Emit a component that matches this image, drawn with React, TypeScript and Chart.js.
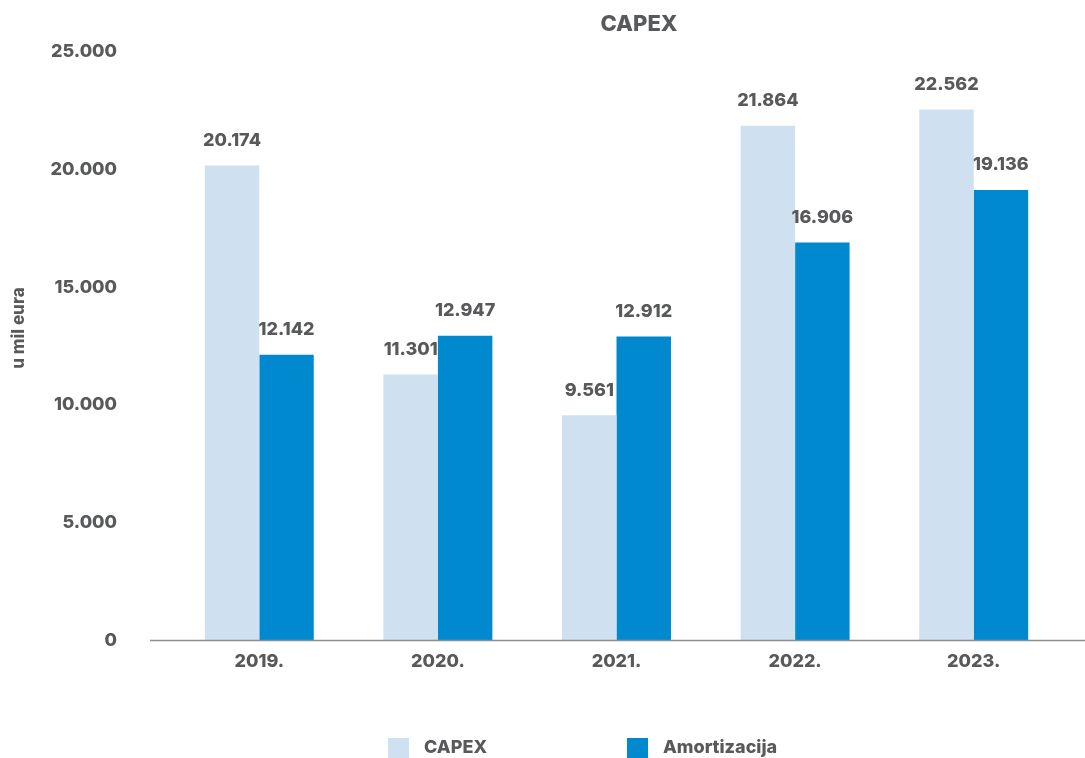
import React, { useEffect, useRef } from "react";
import { Chart, registerables } from "chart.js";

Chart.register(...registerables);

const categories = ["2019.", "2020.", "2021.", "2022.", "2023."];
const capexValues = [20174, 11301, 9561, 21864, 22562];
const amortizacijaValues = [12142, 12947, 12912, 16906, 19136];
const seriesLabels = ["CAPEX", "Amortizacija"];
const chartTitle = "CAPEX";
const yAxisTitle = "u mil eura";
const yMax = 25000;
const yStep = 5000;

const TEXT = "#58595b";
const LIGHT = "#cfe0f0";
const DARK = "#0089cf";
const FONT = "Inter, 'Noto Sans', sans-serif";
const W = 800;

function fmt(v: number): string {
  return String(Math.round(v)).replace(/\B(?=(\d{3})+(?!\d))/g, ".");
}

const extrasPlugin = {
  id: "extras",
  afterDraw(chart: any) {
    const { ctx, scales } = chart;
    const y = scales.y;
    ctx.save();
    // baseline
    const y0 = y.getPixelForValue(0);
    ctx.strokeStyle = "#8e8e8e";
    ctx.lineWidth = 1.5;
    ctx.beginPath();
    ctx.moveTo(150, y0);
    ctx.lineTo(chart.width, y0);
    ctx.stroke();

    // data labels
    ctx.fillStyle = TEXT;
    ctx.font = `${W} 18px ${FONT}`;
    ctx.textAlign = "center";
    ctx.textBaseline = "middle";
    chart.data.datasets.forEach((ds: any, di: number) => {
      const meta = chart.getDatasetMeta(di);
      meta.data.forEach((bar: any, i: number) => {
        const v = ds.data[i];
        ctx.fillText(fmt(v), bar.x, y.getPixelForValue(v) - 25);
      });
    });

    // title
    ctx.font = `${W} 22px ${FONT}`;
    ctx.fillText(chartTitle, 639, 24);

    // y axis title
    ctx.save();
    ctx.translate(19, 328);
    ctx.rotate(-Math.PI / 2);
    ctx.font = `${W} 17px ${FONT}`;
    ctx.fillText(yAxisTitle, 0, 0);
    ctx.restore();

    // legend
    const legendX = [388, 627];
    ctx.font = `${W} 18px ${FONT}`;
    ctx.textAlign = "left";
    chart.data.datasets.forEach((ds: any, di: number) => {
      ctx.fillStyle = ds.backgroundColor;
      ctx.fillRect(legendX[di], 738, 21, 20);
      ctx.fillStyle = TEXT;
      ctx.fillText(ds.label, legendX[di] + 36, 748);
    });
    ctx.restore();
  },
};

export default function App() {
  const ref = useRef<HTMLCanvasElement | null>(null);
  useEffect(() => {
    document.body.style.margin = "0";
    if (!ref.current) return;
    const chart = new Chart(ref.current, {
      type: "bar",
      data: {
        labels: categories,
        datasets: [
          { label: seriesLabels[0], data: capexValues, backgroundColor: LIGHT },
          { label: seriesLabels[1], data: amortizacijaValues, backgroundColor: DARK },
        ],
      },
      options: {
        responsive: false,
        animation: false,
        devicePixelRatio: 1,
        layout: { padding: { top: 52, left: 0, right: 22, bottom: 76 } },
        datasets: { bar: { categoryPercentage: 0.61, barPercentage: 1.0 } },
        plugins: {
          legend: { display: false },
          title: { display: false },
          tooltip: { enabled: false },
        },
        scales: {
          x: {
            grid: { display: false, drawTicks: false },
            border: { display: false },
            ticks: { color: TEXT, font: { family: FONT, size: 18, weight: W }, padding: 10 },
          },
          y: {
            min: 0,
            max: yMax,
            afterFit: (scale: any) => {
              scale.width = 170;
            },
            grid: { display: false, drawTicks: true, tickLength: 49 },
            border: { display: false },
            ticks: {
              stepSize: yStep,
              padding: 4,
              color: TEXT,
              font: { family: FONT, size: 18, weight: W },
              callback: (v: any) => fmt(Number(v)),
            },
          },
        },
      },
      plugins: [extrasPlugin],
    } as any);
    return () => chart.destroy();
  }, []);
  return (
    <div style={{ width: 1085, height: 758, position: "relative" }}>
      <canvas ref={ref} width={1085} height={758} style={{ display: "block" }} />
    </div>
  );
}
